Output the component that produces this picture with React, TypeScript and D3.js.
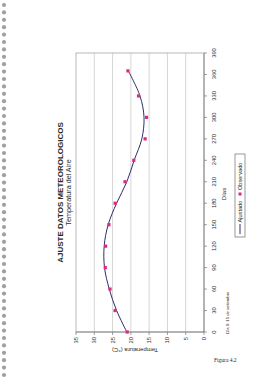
import React from "react";
import * as d3 from "d3";

const days = [0, 30, 60, 90, 120, 150, 180, 210, 240, 270, 300, 330, 365];
const observed = [21.0, 24.3, 25.7, 27.0, 26.9, 26.0, 24.3, 21.6, 19.2, 16.1, 15.7, 17.9, 20.8];
const fitted = [21.1, 23.9, 25.9, 27.2, 27.3, 26.2, 23.9, 21.1, 19.1, 17.0, 16.4, 17.5, 20.7];
const tempTicks = [0, 5, 10, 15, 20, 25, 30, 35];
const dayTicks = [0, 30, 60, 90, 120, 150, 180, 210, 240, 270, 300, 330, 360, 390];
const title = "AJUSTE DATOS METEOROLOGICOS";
const subtitle = "Temperatura del Aire";
const xTitle = "Días";
const yTitle = "Temperatura (°C)";
const note = "Día 0: 15 de setiembre";
const legendLabels = ["Ajustado", "Observado"];
const figure = "Figura 4.2";

const W = 270;
const H = 380;
const FONT = "'Liberation Sans', Arial, sans-serif";

export default function App() {
  // landscape coordinates, rotated -90deg onto the portrait page
  const x = d3.scaleLinear().domain([0, 390]).range([48, 327]);
  const y = d3.scaleLinear().domain([0, 35]).range([204, 76]);
  const line = d3
    .line<number>()
    .x((_, i) => x(days[i]))
    .y((d) => y(d))
    .curve(d3.curveCatmullRom.alpha(0.5));
  const holes = d3.range(5, 378, 7.4);
  const ink = "#2a2a2a";
  const curveColor = "#2e2e6e";
  const markColor = "#e0287e";

  return (
    <svg
      width={W}
      height={H}
      style={{ position: "absolute", left: 0, top: 0, background: "#fff" }}
    >
      <rect width={W} height={H} fill="#ffffff" />
      {holes.map((cy, i) => (
        <circle key={i} cx={4} cy={cy} r={2.1} fill="#a0a0a0" />
      ))}
      <g transform={`translate(0,${H}) rotate(-90)`} fontFamily={FONT} fill={ink}>
        {/* plot area */}
        <rect x={x(0)} y={y(35)} width={x(390) - x(0)} height={y(0) - y(35)} fill="#fff" stroke="#9a9a9a" strokeWidth={0.7} />
        {tempTicks.filter((t) => t > 0 && t < 35).map((t) => (
          <line key={t} x1={x(0)} x2={x(390)} y1={y(t)} y2={y(t)} stroke="#b8b8b8" strokeWidth={0.6} />
        ))}
        {/* axes */}
        <line x1={x(0)} x2={x(390)} y1={y(0)} y2={y(0)} stroke="#777" strokeWidth={0.8} />
        <line x1={x(0)} x2={x(0)} y1={y(0)} y2={y(35)} stroke="#777" strokeWidth={0.8} />
        {dayTicks.map((d) => (
          <g key={d}>
            <line x1={x(d)} x2={x(d)} y1={y(0)} y2={y(0) + 3} stroke="#777" strokeWidth={0.7} />
            <text x={x(d)} y={215.5} fontSize={5.8} textAnchor="middle">{d}</text>
          </g>
        ))}
        {tempTicks.map((t) => (
          <g key={t}>
            <line x1={x(0) - 3} x2={x(0)} y1={y(t)} y2={y(t)} stroke="#777" strokeWidth={0.7} />
            <text x={43} y={y(t) + 2} fontSize={5.8} textAnchor="end">{t}</text>
          </g>
        ))}
        {/* fitted curve */}
        <path d={line(fitted) || ""} fill="none" stroke={curveColor} strokeWidth={1} />
        {/* observed points */}
        {observed.map((v, i) => (
          <rect key={i} x={x(days[i]) - 1.6} y={y(v) - 1.6} width={3.2} height={3.2} fill={markColor} />
        ))}
        {/* titles */}
        <text x={187.5} y={63} fontSize={8} fontWeight="bold" textAnchor="middle">{title}</text>
        <text x={187.5} y={70.5} fontSize={7.2} textAnchor="middle">{subtitle}</text>
        <text x={186} y={225.5} fontSize={6} textAnchor="middle">{xTitle}</text>
        <text transform={`translate(32,135) rotate(-90)`} fontSize={6} textAnchor="middle">{yTitle}</text>
        <text x={46} y={228.5} fontSize={4.2}>{note}</text>
        {/* legend */}
        <rect x={143} y={235} width={83} height={10} fill="#fff" stroke="#555" strokeWidth={0.6} />
        <line x1={146} x2={156} y1={240} y2={240} stroke={curveColor} strokeWidth={1} />
        <text x={157.5} y={242} fontSize={5.6}>{legendLabels[0]}</text>
        <rect x={184.5} y={238.5} width={3} height={3} fill={markColor} />
        <text x={190} y={242} fontSize={5.6}>{legendLabels[1]}</text>
      </g>
      <text x={214} y={362} fontSize={5.5} fontFamily="'Liberation Serif', serif" fill={ink}>{figure}</text>
    </svg>
  );
}
